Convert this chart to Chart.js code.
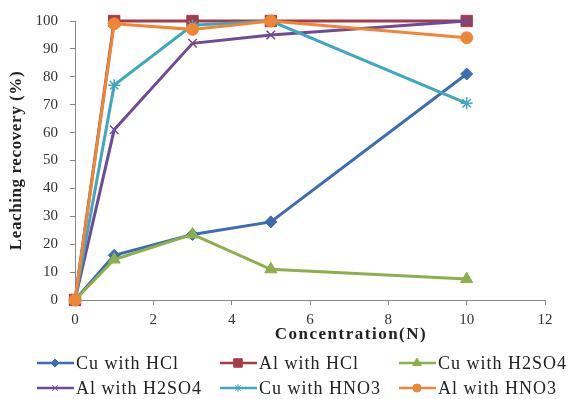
<!DOCTYPE html>
<html>
<head>
<meta charset="utf-8">
<script src="https://cdn.jsdelivr.net/npm/chart.js@4"></script>
<style>
  body { margin: 0; background: #fff; }
  #wrap { width: 574px; height: 399px; }
</style>
</head>
<body>
<div id="wrap"><canvas id="myChart"></canvas></div>
<script>
const concentration = [0, 1, 3, 5, 10];
const cuHCl = [0, 16, 23.5, 28, 81];
const alHCl = [0, 100, 100, 100, 100];
const cuH2SO4 = [0, 14.5, 23.5, 11, 7.5];
const alH2SO4 = [0, 61, 92, 95, 100];
const cuHNO3 = [0, 77, 98.5, 100, 70.5];
const alHNO3 = [0, 99, 97, 100, 94];
const seriesNames = ["Cu with HCl", "Al with HCl", "Cu with H2SO4", "Al with H2SO4", "Cu with HNO3", "Al with HNO3"];
const xTicks = [0, 2, 4, 6, 8, 10, 12];

const colors = ["#3E6BB3", "#A53B48", "#8DB04B", "#6F4B96", "#3FA7C0", "#EF8636"];
const shapes = ["rectRot", "rect", "triangle", "crossRot", "star", "circle"];
const sizes = [6, 8, 7, 6, 6, 6];
const allValues = [cuHCl, alHCl, cuH2SO4, alH2SO4, cuHNO3, alHNO3];

const serif = "'Liberation Serif', 'Times New Roman', serif";

function toPoints(values) {
  return values.map((v, i) => ({ x: concentration[i], y: v }));
}

const datasets = allValues.map((vals, i) => ({
  label: seriesNames[i],
  data: toPoints(vals),
  borderColor: colors[i],
  backgroundColor: colors[i],
  pointBackgroundColor: colors[i],
  pointBorderColor: colors[i],
  pointStyle: shapes[i],
  pointRadius: sizes[i],
  pointBorderWidth: shapes[i] === "crossRot" || shapes[i] === "star" ? 1.5 : 1,
  borderWidth: 3,
  tension: 0,
  clip: false,
  order: 5 - i,
}));

// titles and legend drawn like Excel
const excelText = {
  id: "excelText",
  afterDraw(chart) {
    const ctx = chart.ctx;
    const area = chart.chartArea;
    ctx.save();
    ctx.fillStyle = "#222";
    ctx.textAlign = "center";
    ctx.textBaseline = "middle";

    // axis titles
    ctx.letterSpacing = "1.5px";
    ctx.font = "bold 17px " + serif;
    ctx.fillText("Concentration(N)", 351, 335);
    ctx.save();
    ctx.translate(17, (area.top + area.bottom) / 2);
    ctx.rotate(-Math.PI / 2);
    ctx.letterSpacing = "0.6px";
    ctx.fillText("Leaching recovery (%)", 0, 0);
    ctx.restore();

    // legend
    const cols = [37, 220, 399];
    const rows = [363, 388];
    ctx.textAlign = "left";
    ctx.letterSpacing = "1px";
    ctx.font = "18px " + serif;
    datasets.forEach((ds, i) => {
      const x = cols[i % 3];
      const y = rows[Math.floor(i / 3)];
      ctx.strokeStyle = colors[i];
      ctx.lineWidth = 2.5;
      ctx.beginPath();
      ctx.moveTo(x, y);
      ctx.lineTo(x + 37, y);
      ctx.stroke();
      ctx.fillStyle = colors[i];
      ctx.lineWidth = 1;
      Chart.helpers.drawPoint(ctx, { pointStyle: shapes[i], radius: sizes[i] - 2, borderWidth: 1, rotation: 0 }, x + 18, y);
      ctx.fillStyle = "#222";
      ctx.fillText(ds.label, x + 39, y + 1);
    });
    ctx.restore();
  },
};

new Chart(document.getElementById("myChart"), {
  type: "line",
  data: { datasets: datasets },
  options: {
    responsive: true,
    maintainAspectRatio: false,
    animation: false,
    layout: { padding: { left: 0, right: 29, top: 19, bottom: 0 } },
    plugins: {
      legend: { display: false },
      tooltip: { enabled: false },
    },
    scales: {
      x: {
        type: "linear",
        min: 0,
        max: 12,
        afterBuildTicks: (axis) => {
          axis.ticks = xTicks.map((v) => ({ value: v }));
        },
        afterFit: (scale) => {
          scale.height = 99;
        },
        grid: {
          display: true,
          drawOnChartArea: false,
          drawTicks: true,
          tickLength: 5,
          color: "#888",
        },
        border: { color: "#888", width: 1 },
        ticks: { color: "#333", font: { family: serif, size: 15 }, padding: 6, maxRotation: 0 },
      },
      y: {
        min: 0,
        max: 100,
        afterFit: (scale) => {
          scale.width = 75;
        },
        ticks: { stepSize: 10, color: "#333", font: { family: serif, size: 15 }, padding: 12 },
        grid: {
          display: true,
          drawOnChartArea: false,
          drawTicks: true,
          tickLength: 5,
          color: "#888",
        },
        border: { color: "#888", width: 1 },
      },
    },
  },
  plugins: [excelText],
});
</script>
</body>
</html>
